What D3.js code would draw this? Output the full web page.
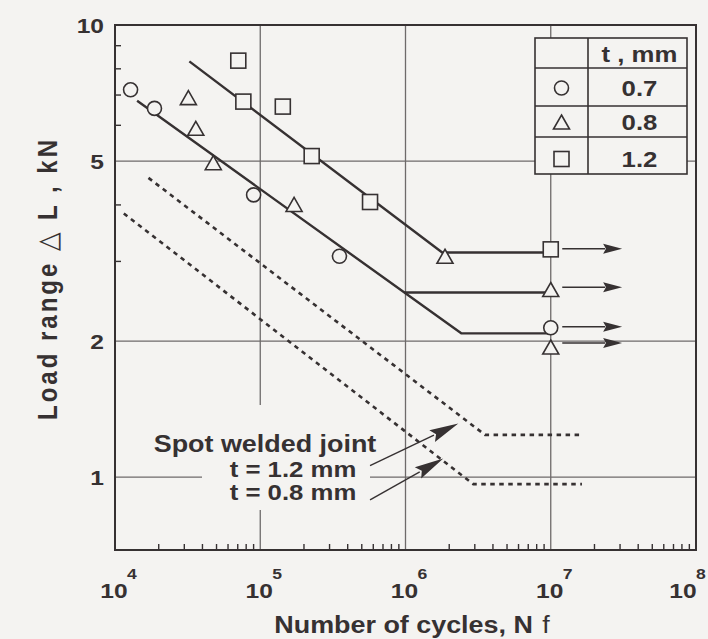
<!DOCTYPE html>
<html>
<head>
<meta charset="utf-8">
<script src="https://cdn.jsdelivr.net/npm/d3@7"></script>
<style>
  html, body { margin: 0; padding: 0; background: #f4f3f1; }
  svg { display: block; }
  text { font-family: "Liberation Sans", Arial, Helvetica, "DejaVu Sans", sans-serif; font-weight: bold; fill: #363132; }
</style>
</head>
<body>
<svg id="chart" width="708" height="639"></svg>
<script>
// ---- Fatigue data: load range (kN) vs. cycles to failure ----
const seriesT07 = [ // t = 0.7 mm (circles)
  { n: 1.28e4, load: 7.19 },
  { n: 1.87e4, load: 6.54 },
  { n: 9.0e4,  load: 4.21 },
  { n: 3.51e5, load: 3.08 },
  { n: 1.0e7,  load: 2.14 }
];
const seriesT08 = [ // t = 0.8 mm (triangles)
  { n: 3.2e4,  load: 6.91 },
  { n: 3.6e4,  load: 5.91 },
  { n: 4.75e4, load: 4.96 },
  { n: 1.71e5, load: 4.01 },
  { n: 1.87e6, load: 3.08 },
  { n: 1.0e7,  load: 2.60 },
  { n: 1.0e7,  load: 1.94 }
];
const seriesT12 = [ // t = 1.2 mm (squares)
  { n: 7.06e4, load: 8.34 },
  { n: 7.65e4, load: 6.77 },
  { n: 1.43e5, load: 6.60 },
  { n: 2.26e5, load: 5.13 },
  { n: 5.70e5, load: 4.06 },
  { n: 1.0e7,  load: 3.19 }
];

// run-outs (unbroken at 1e7 cycles): load levels of the arrows
const runoutLoads = [3.20, 2.63, 2.15, 1.98];
const runoutFrom = 1.2e7, runoutTo = 3.1e7;

// fitted S-N curves (knee + fatigue limit)
const fitT12 = [[3.25e4, 8.31], [1.79e6, 3.14], [1.0e7, 3.14]];
const fitT07 = [[1.42e4, 6.80], [2.42e6, 2.08], [1.0e7, 2.08]];
const limitT08 = [[9.8e5, 2.56], [1.0e7, 2.56]];

// spot welded joint curves (dotted)
const spotT12 = [[1.70e4, 4.59], [3.53e6, 1.24], [1.64e7, 1.24]];
const spotT08 = [[1.15e4, 3.83], [2.93e6, 0.965], [1.64e7, 0.965]];

// arrows from the note to the spot welded curves
const noteArrows = [
  { from: [5.7e5, 1.06],  to: [2.31e6, 1.314] },
  { from: [5.7e5, 0.891], to: [1.82e6, 1.099] }
];

// axes
const xTicks = [1e4, 1e5, 1e6, 1e7, 1e8];
const xTickExp = ["4", "5", "6", "7", "8"];
const yTicks = [1, 2, 5, 10];
const yTickLabels = ["1", "2", "5", "10"];
const xGridLines = [1e5, 1e6, 1e7];
const yGridLines = [1, 2, 5];
const yMinorTicks = [3, 4, 6, 7, 8, 9];

// legend
const legendSymbols = ["circle", "triangle", "square"];
const legendLabels = ["0.7", "0.8", "1.2"];
const legendHeader = "t , mm";

// ---- layout ----
const W = 708, H = 639;
const plot = { left: 115, right: 696, top: 25, bottom: 550 };
const BG = "#f4f3f1", INK = "#363132", GRID = "#6e6a6a";
const SX = 1.17; // horizontal glyph stretch

const svg = d3.select("#chart");
svg.append("rect").attr("width", W).attr("height", H).attr("fill", BG);

const x = d3.scaleLog().domain([1e4, 1e8]).range([plot.left, plot.right]);
const y = d3.scaleLog().domain([0.69, 10]).range([plot.bottom, plot.top]);

// grid
const grid = svg.append("g").attr("stroke", GRID).attr("stroke-width", 1.3);
grid.selectAll("line.gx").data(xGridLines).join("line").attr("class", "gx")
  .attr("x1", d => x(d)).attr("x2", d => x(d))
  .attr("y1", plot.top).attr("y2", plot.bottom);
grid.selectAll("line.gy").data(yGridLines).join("line").attr("class", "gy")
  .attr("x1", plot.left).attr("x2", plot.right)
  .attr("y1", d => y(d)).attr("y2", d => y(d));

// clear patch behind the note text
svg.append("rect").attr("x", 202).attr("y", 405).attr("width", 168).attr("height", 105).attr("fill", BG);

// legend table
const lg = { left: 535, right: 687, top: 38, bottom: 174, divX: 588 };
const legendRowLines = [68, 106, 137];
const legendCenters = [54, 88, 122, 159];
const legend = svg.append("g");
legend.append("rect")
  .attr("x", lg.left).attr("y", lg.top)
  .attr("width", lg.right - lg.left).attr("height", lg.bottom - lg.top)
  .attr("fill", BG).attr("stroke", INK).attr("stroke-width", 1.6);
legend.append("line").attr("x1", lg.divX).attr("x2", lg.divX)
  .attr("y1", lg.top).attr("y2", lg.bottom).attr("stroke", INK).attr("stroke-width", 1.6);
legend.selectAll("line.row").data(legendRowLines).join("line").attr("class", "row")
  .attr("x1", lg.left).attr("x2", lg.right)
  .attr("y1", d => d).attr("y2", d => d)
  .attr("stroke", INK).attr("stroke-width", 1.6);

// ---- marker shapes ----
function triPath(w, h) { return `M0,${-h / 2}L${w / 2},${h / 2}L${-w / 2},${h / 2}Z`; }
function drawMarker(g, kind, cx, cy) {
  const common = s => s.attr("fill", BG).attr("stroke", INK).attr("stroke-width", 1.6);
  if (kind === "circle") common(g.append("circle").attr("cx", cx).attr("cy", cy).attr("r", 7));
  else if (kind === "square") common(g.append("rect").attr("x", cx - 7.5).attr("y", cy - 7.5).attr("width", 15).attr("height", 15));
  else common(g.append("path").attr("d", triPath(16, 14)).attr("transform", `translate(${cx},${cy})`));
}

// ---- curves ----
const line = d3.line().x(d => x(d[0])).y(d => y(d[1]));
const curves = svg.append("g").attr("fill", "none").attr("stroke", INK);
[fitT12, fitT07, limitT08].forEach(c =>
  curves.append("path").attr("d", line(c)).attr("stroke-width", 2.4).attr("stroke-linejoin", "round"));
[spotT12, spotT08].forEach(c =>
  curves.append("path").attr("d", line(c)).attr("stroke-width", 2.6).attr("stroke-dasharray", "4.5 4.5"));

// ---- arrows ----
function arrow(g, x1, y1, x2, y2, len, half, width) {
  const dx = x2 - x1, dy = y2 - y1, L = Math.hypot(dx, dy);
  const ux = dx / L, uy = dy / L, px = -uy, py = ux;
  const bx = x2 - ux * len, by = y2 - uy * len;
  g.append("line").attr("x1", x1).attr("y1", y1).attr("x2", bx + ux * 2).attr("y2", by + uy * 2)
    .attr("stroke", INK).attr("stroke-width", width);
  g.append("path")
    .attr("d", `M${x2},${y2}L${bx + px * half},${by + py * half}L${bx + ux * len * 0.15},${by + uy * len * 0.15}L${bx - px * half},${by - py * half}Z`)
    .attr("fill", INK);
}
const arrows = svg.append("g");
runoutLoads.forEach(v => arrow(arrows, x(runoutFrom), y(v), x(runoutTo), y(v), 19, 5, 1.5));
noteArrows.forEach(a => arrow(arrows, x(a.from[0]), y(a.from[1]), x(a.to[0]), y(a.to[1]), 29, 6.5, 1.4));

// ---- markers ----
const marks = svg.append("g");
seriesT07.forEach(d => drawMarker(marks, "circle", x(d.n), y(d.load)));
seriesT08.forEach(d => drawMarker(marks, "triangle", x(d.n), y(d.load)));
seriesT12.forEach(d => drawMarker(marks, "square", x(d.n), y(d.load)));

// ---- frame and ticks ----
svg.append("rect").attr("x", plot.left).attr("y", plot.top)
  .attr("width", plot.right - plot.left).attr("height", plot.bottom - plot.top)
  .attr("fill", "none").attr("stroke", INK).attr("stroke-width", 2);

const minorX = [];
for (let e = 4; e < 8; e++) for (let m = 2; m <= 9; m++) minorX.push(m * Math.pow(10, e));
svg.append("g").selectAll("line").data(minorX).join("line")
  .attr("x1", d => x(d)).attr("x2", d => x(d))
  .attr("y1", plot.bottom).attr("y2", plot.bottom - 6)
  .attr("stroke", INK).attr("stroke-width", 1.4);
svg.append("g").selectAll("line").data(yMinorTicks).join("line")
  .attr("x1", plot.left).attr("x2", plot.left + 6)
  .attr("y1", d => y(d)).attr("y2", d => y(d))
  .attr("stroke", INK).attr("stroke-width", 1.4);

// ---- text ----
function txt(parent, px, py, s, size, anchor) {
  return parent.append("text")
    .attr("transform", `translate(${px},${py}) scale(${SX},1)`)
    .attr("font-size", size).attr("text-anchor", anchor).text(s);
}
const labels = svg.append("g");
xTicks.forEach((t, i) => {
  // the last label is pulled in so its exponent stays on the page
  const shift = i === xTicks.length - 1 ? -12 : 0;
  txt(labels, x(t) - 1 + shift, 598, "10", 21, "middle");
  txt(labels, x(t) + 12 + shift, 579, xTickExp[i], 15, "start");
});
yTicks.forEach((t, i) => txt(labels, 104, y(t) + 7.5, yTickLabels[i], 21, "end"));

// axis titles
const xt = txt(labels, 412, 633, "", 23, "middle");
xt.append("tspan").text("Number of cycles, N");
xt.append("tspan").attr("dx", 8).attr("font-weight", "normal").text("f");

labels.append("text")
  .attr("transform", `translate(57,280) scale(${SX},1) rotate(-90)`)
  .attr("font-size", 24).attr("text-anchor", "middle")
  .attr("textLength", 280).attr("lengthAdjust", "spacing")
  .text("Load  range  △ L , kN");

// note
txt(labels, 265, 452, "Spot welded joint", 23, "middle");
txt(labels, 293, 477, "t = 1.2 mm", 22, "middle");
txt(labels, 293, 500, "t = 0.8 mm", 22, "middle");

// legend contents
const symX = (lg.left + lg.divX) / 2, labX = (lg.divX + lg.right) / 2 + 2;
txt(legend, labX, legendCenters[0] + 8, legendHeader, 22, "middle");
legendSymbols.forEach((s, i) => {
  drawMarker(legend, s, symX, legendCenters[i + 1]);
  txt(legend, labX, legendCenters[i + 1] + 8, legendLabels[i], 22, "middle");
});
</script>
</body>
</html>
